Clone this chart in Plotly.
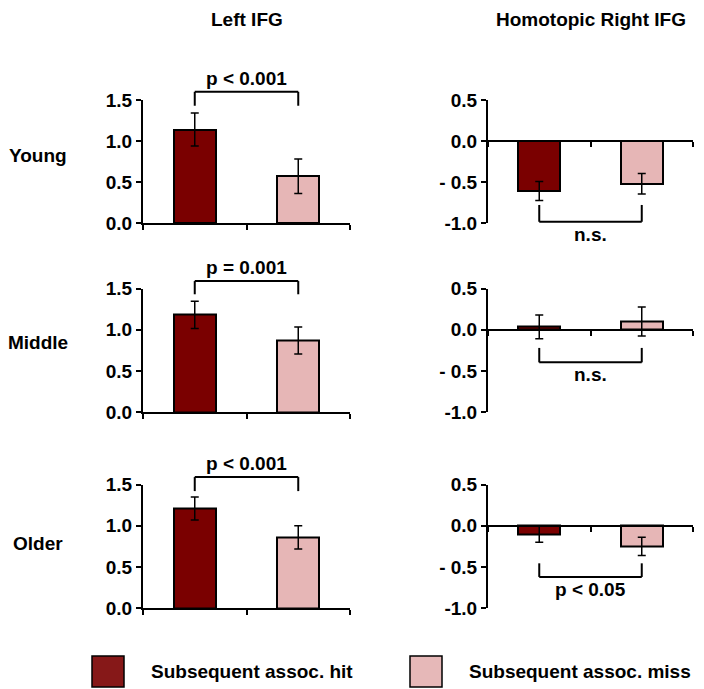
import plotly.graph_objects as go

# ---------------- data ----------------
conditions = ["Subsequent assoc. hit", "Subsequent assoc. miss"]
groups = ["Young", "Middle", "Older"]
regions = ["Left IFG", "Homotopic Right IFG"]

left_hit = [1.14, 1.18, 1.21]
left_hit_err = [0.20, 0.165, 0.14]
left_miss = [0.57, 0.87, 0.86]
left_miss_err = [0.21, 0.165, 0.14]

right_hit = [-0.61, 0.035, -0.10]
right_hit_err = [0.115, 0.145, 0.10]
right_miss = [-0.52, 0.10, -0.25]
right_miss_err = [0.125, 0.175, 0.11]

left_p = ["p < 0.001", "p = 0.001", "p < 0.001"]
right_p = ["n.s.", "n.s.", "p < 0.05"]
left_bracket_y = [1.6, 1.59, 1.59]
left_bracket_leg = [1.43, 1.43, 1.42]
right_bracket_y = [-0.985, -0.395, -0.62]
right_bracket_leg = [-0.78, -0.22, -0.455]

left_tickvals = [0, 0.5, 1.0, 1.5]
left_ticktext = ["0.0", "0.5", "1.0", "1.5"]
right_tickvals = [-1.0, -0.5, 0.0, 0.5]
right_ticktext = ["-1.0", "- 0.5", "0.0", "0.5"]
left_range = [0, 1.5]
right_range = [-1.0, 0.5]

# ---------------- style ----------------
W, H = 704, 689
HIT = "#7A0000"
MISS = "#E6B6B6"
LEG_HIT = "#861818"
LEG_MISS = "#E6B8B8"
FONT = "Liberation Sans, Arial, sans-serif"
FS = 19

col_px = [(143, 350), (488, 693)]
row_px = [(100, 223), (288.5, 412.3), (484.5, 608.3)]

fig = go.Figure()
layout = dict(
    template="none",
    width=W, height=H,
    margin=dict(l=0, r=0, t=0, b=0, pad=0, autoexpand=False),
    paper_bgcolor="white", plot_bgcolor="white", showlegend=False,
    bargap=0,
)
shapes = []
annotations = []


def dom_frac(v, rng):
    return (v - rng[0]) / (rng[1] - rng[0])


def bold(size=FS):
    return dict(family=FONT, size=size, color="black", weight="bold")


for r in range(3):
    for c in range(2):
        idx = r * 2 + c + 1
        xs = "" if idx == 1 else str(idx)
        xname, yname = "x" + xs, "y" + xs
        if c == 0:
            vals = [left_hit[r], left_miss[r]]
            errs = [left_hit_err[r], left_miss_err[r]]
            rng, tv, tt = left_range, left_tickvals, left_ticktext
        else:
            vals = [right_hit[r], right_miss[r]]
            errs = [right_hit_err[r], right_miss_err[r]]
            rng, tv, tt = right_range, right_tickvals, right_ticktext

        fig.add_trace(go.Bar(
            x=[0, 1], y=vals, width=0.41,
            marker=dict(color=[HIT, MISS], line=dict(color="black", width=2)),
            error_y=dict(type="data", array=errs, visible=True,
                         color="black", thickness=1.5, width=4),
            xaxis=xname, yaxis=yname, name=groups[r],
        ))

        x0, x1 = col_px[c]
        top, bot = row_px[r]
        ydom = [1 - bot / H, 1 - top / H]
        xdom = [x0 / W, x1 / W]

        yax = dict(
            domain=ydom, range=rng, anchor=xname, automargin=False,
            tickmode="array", tickvals=tv, ticktext=tt, ticks="outside",
            ticklen=5, tickwidth=2,
            tickcolor="black", showline=True, linecolor="black", linewidth=2,
            showgrid=False, zeroline=False, tickfont=bold(),
        )
        xax = dict(
            domain=xdom, range=[-0.5, 1.5], tickmode="array",
            tickvals=[-0.5, 0.5, 1.5], automargin=False,
            ticks="outside", ticklen=5, tickwidth=2, tickcolor="black",
            showticklabels=False, showline=True, linecolor="black",
            linewidth=2, showgrid=False, zeroline=False,
        )
        if c == 0:
            xax["anchor"] = yname
        else:
            xax["anchor"] = "free"
            xax["position"] = ydom[0] + dom_frac(0, rng) * (ydom[1] - ydom[0])
        layout["xaxis" + xs] = xax
        layout["yaxis" + xs] = yax

        # significance bracket
        if c == 0:
            by, bl, txt = left_bracket_y[r], left_bracket_leg[r], left_p[r]
        else:
            by, bl, txt = right_bracket_y[r], right_bracket_leg[r], right_p[r]
        yb, yl = dom_frac(by, rng), dom_frac(bl, rng)
        ln = dict(color="black", width=2)
        for (ax0, ax1, ay0, ay1) in [(0, 1, yb, yb), (0, 0, yb, yl), (1, 1, yb, yl)]:
            shapes.append(dict(type="line", xref=xname, yref=yname + " domain",
                               x0=ax0, x1=ax1, y0=ay0, y1=ay1, line=ln))
        annotations.append(dict(
            x=0.5, y=yb, xref=xname, yref=yname + " domain", text=txt,
            showarrow=False, xanchor="center",
            yanchor="bottom" if c == 0 else "top",
            yshift=1 if c == 0 else 0,
            font=bold(),
        ))

# column titles
for c, name in enumerate(regions):
    x0, x1 = col_px[c]
    annotations.append(dict(
        x=(x0 + x1) / 2 / W, y=1 - 20 / H, xref="paper", yref="paper",
        text=name, showarrow=False, xanchor="center", yanchor="middle",
        font=bold()))

# row labels
row_label_y = [155, 343, 543]
for r, g in enumerate(groups):
    annotations.append(dict(
        x=37.5 / W, y=1 - row_label_y[r] / H, xref="paper", yref="paper",
        text=g, showarrow=False, xanchor="center", yanchor="middle",
        font=bold()))

# legend (manual)
leg_boxes = [(92, 124), (410, 442)]
leg_text_x = [149, 467]
leg_colors = [LEG_HIT, LEG_MISS]
for i, cond in enumerate(conditions):
    bx0, bx1 = leg_boxes[i]
    shapes.append(dict(type="rect", xref="paper", yref="paper",
                       x0=bx0 / W, x1=bx1 / W, y0=1 - 687 / H, y1=1 - 656 / H,
                       fillcolor=leg_colors[i], line=dict(color="black", width=1.5)))
    annotations.append(dict(
        x=leg_text_x[i] / W, y=1 - 671.5 / H, xref="paper", yref="paper",
        text=cond, showarrow=False, xanchor="left", yanchor="middle",
        font=bold()))

layout["shapes"] = shapes
layout["annotations"] = annotations
fig.update_layout(**layout)
fig.write_html(
    "out.html",
    config={"displayModeBar": False},
    post_script="document.body.style.margin='0';document.body.style.padding='0';"
                "document.body.style.overflow='hidden';",
)
